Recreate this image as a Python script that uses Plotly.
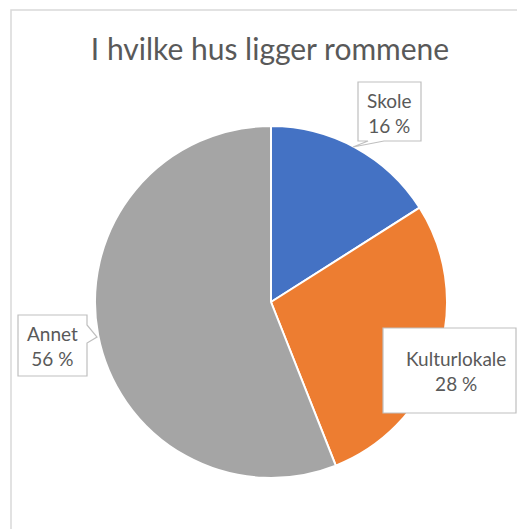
import plotly.graph_objects as go

labels = ["Skole", "Kulturlokale", "Annet"]
values = [16, 28, 56]
colors = ["#4472C4", "#ED7D31", "#A5A5A5"]
title_text = "I hvilke hus ligger rommene"

W, H = 517, 529
FONT = "Lato, Calibri, Carlito, sans-serif"

def px(x):
    return x / W

def py(y):
    return 1 - y / H

cx, cy, r = 271, 302, 176

fig = go.Figure(go.Pie(
    labels=labels, values=values, sort=False, direction="clockwise",
    rotation=0, marker=dict(colors=colors, line=dict(color="white", width=2)),
    textinfo="none", hoverinfo="label+percent", showlegend=False,
    domain=dict(x=[px(cx - r), px(cx + r)], y=[py(cy + r), py(cy - r)]),
))

def path(points):
    return "M " + " L ".join(f"{px(x)},{py(y)}" for x, y in points) + " Z"

shapes = []
# chart border
shapes.append(dict(type="rect", xref="paper", yref="paper",
                   x0=px(11), x1=px(560), y0=py(570), y1=py(10),
                   line=dict(color="#D9D9D9", width=1.5), fillcolor="rgba(0,0,0,0)"))
# callout outlines
callouts = [
    [(358, 82), (421, 82), (421, 141), (384, 141), (353, 147), (368, 141), (358, 141)],
    [(383, 328), (516, 328), (516, 413), (383, 413)],
    [(18, 315), (87, 315), (87, 325), (97, 337), (87, 343), (87, 376), (18, 376)],
]
for pts in callouts:
    shapes.append(dict(type="path", xref="paper", yref="paper", path=path(pts),
                       line=dict(color="#BFBFBF", width=1.2), fillcolor="white", layer="above"))

label_pos = [(389, 113), (456, 371), (52, 346)]
annotations = []
for (x, y), lab, v in zip(label_pos, labels, values):
    pct = round(100 * v / sum(values))
    annotations.append(dict(x=px(x), y=py(y), xref="paper", yref="paper",
                            text=f"{lab}<br>{pct} %", showarrow=False,
                            font=dict(family=FONT, size=19, color="#595959"),
                            align="center", xanchor="center", yanchor="middle"))

fig.update_layout(
    width=W, height=H, margin=dict(l=0, r=0, t=0, b=0),
    paper_bgcolor="white", plot_bgcolor="white",
    title=dict(text=title_text, x=px(270), xanchor="center", y=py(49), yanchor="middle",
               font=dict(family=FONT, size=30, color="#595959")),
    shapes=shapes, annotations=annotations,
)

fig.write_html(
    "out.html",
    config={"displayModeBar": False},
    post_script="document.body.style.margin='0px';document.body.style.overflow='hidden';",
)
